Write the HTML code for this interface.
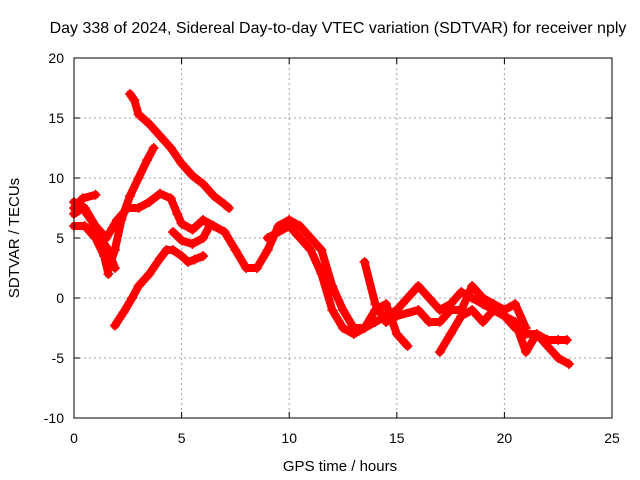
<!DOCTYPE html>
<html><head><meta charset="utf-8"><style>
body{margin:0;background:#fff;}
svg{display:block;font-family:"Liberation Sans",sans-serif;}
</style></head><body>
<svg id="c" width="640" height="480" viewBox="0 0 640 480">
<rect width="640" height="480" fill="#fff"/>
<text x="338" y="33" text-anchor="middle" font-size="16">Day 338 of 2024, Sidereal Day-to-day VTEC variation (SDTVAR) for receiver nply</text>
<g id="grid"></g>
<g id="ticks"></g>
<g id="series"></g>
<rect x="74" y="58" width="538" height="360" fill="none" stroke="#000" stroke-width="1"/>
<text x="340" y="471" text-anchor="middle" font-size="15">GPS time / hours</text>
<text transform="translate(19,238) rotate(-90)" text-anchor="middle" font-size="15">SDTVAR / TECUs</text>
</svg>
<script>
const xTicks=[0,5,10,15,20,25];
const yTicks=[-10,-5,0,5,10,15,20];
const trackA=[[2.6,17],[2.8,16.5],[3,15.3],[3.5,14.5],[4,13.5],[4.5,12.5],[5,11.2],[5.5,10.2],[6,9.5],[6.5,8.5],[7,7.8],[7.2,7.5]];
const trackB=[[1.9,-2.3],[2.3,-1.2],[2.7,0],[3,1],[3.5,2],[4,3.3],[4.3,4],[4.6,4],[5,3.5],[5.3,3],[5.6,3.2],[6,3.5]];
const trackC=[[1.6,2.5],[1.9,4],[2.2,6.5],[2.6,8.5],[3,10],[3.4,11.5],[3.7,12.5]];
const trackD=[[0,8],[0.5,7.5],[1,6],[1.5,5],[2,6.5],[2.5,7.5],[3,7.5],[3.5,8],[4,8.7],[4.5,8.3],[4.8,7],[5,6.2],[5.5,5.7],[6,6.5],[6.5,6],[7,5.5],[7.5,4],[8,2.5],[8.5,2.5],[9,4],[9.5,6],[10,6.5],[10.5,6],[11,5],[11.5,4],[12,1],[12.5,-1],[13,-2.5],[13.5,-2.5],[14,-2],[14.5,-1.5],[15,-1],[15.5,0],[16,1],[16.5,0],[17,-1],[17.5,-0.5],[18,0.5],[18.5,0],[19,-0.5],[19.5,-1],[20,-1.5],[20.5,-2.5],[21,-3],[21.5,-3],[22,-3.5],[22.5,-3.5],[22.9,-3.5]];
const trackE=[[0,7.5],[0.4,8.3],[1,8.6]];
const trackF=[[0,6],[0.5,6],[1,5],[1.4,3.5],[1.6,2]];
const trackG=[[0,7],[0.4,7.5],[0.8,6.5],[1.2,5],[1.6,4],[1.9,2.5]];
const trackH=[[4.6,5.5],[5,4.8],[5.5,4.5],[6,5],[6.3,6]];
const trackI=[[9,5],[10,6],[11,4],[11.5,2],[12,-1],[12.5,-2.5],[13,-3],[13.5,-2.5],[14,-1],[14.5,-0.5],[15,-3],[15.5,-4]];
const trackJ=[[17,-4.5],[17.5,-3],[18,-1.5],[18.5,-1],[19,-2],[19.5,-1],[20,-1.5],[20.5,-2],[21,-4.5],[21.5,-3],[22,-4],[22.5,-5],[23,-5.5]];
const trackK=[[13.5,3],[14,-0.5],[14.5,-2],[15,-1.5],[16,-1],[16.5,-2],[17,-2],[17.5,-1],[18,-1],[18.5,1],[19,0],[19.5,-0.5],[20,-1],[20.5,-0.5],[21,-2.5]];
const tracks=[trackA,trackB,trackC,trackD,trackE,trackF,trackG,trackH,trackI,trackJ,trackK];
const NS="http://www.w3.org/2000/svg";
function X(v){return 74+v*(538/25);}
function Y(v){return 298-v*12;}
const grid=document.getElementById('grid'),ticks=document.getElementById('ticks'),series=document.getElementById('series');
function mk(tag,attrs,parent){const e=document.createElementNS(NS,tag);for(const k in attrs)e.setAttribute(k,attrs[k]);parent.appendChild(e);return e;}
xTicks.forEach(t=>{
 if(t>0&&t<25){const g=mk('line',{x1:X(t),x2:X(t),y1:58,y2:418,stroke:'#a0a0a0','stroke-dasharray':'2,3'},grid);
 
 }
 mk('line',{x1:X(t),x2:X(t),y1:418,y2:412,stroke:'#000'},ticks);
 mk('line',{x1:X(t),x2:X(t),y1:58,y2:64,stroke:'#000'},ticks);
 const l=mk('text',{x:X(t),y:443,'text-anchor':'middle','font-size':14},ticks);l.textContent=t;
 
 
});
yTicks.forEach(t=>{
 if(t>-10&&t<20){const g=mk('line',{x1:74,x2:612,y1:Y(t),y2:Y(t),stroke:'#a0a0a0','stroke-dasharray':'2,3'},grid);
 
 }
 mk('line',{x1:74,x2:80,y1:Y(t),y2:Y(t),stroke:'#000'},ticks);
 mk('line',{x1:612,x2:606,y1:Y(t),y2:Y(t),stroke:'#000'},ticks);
 const l=mk('text',{x:64,y:Y(t)+5,'text-anchor':'end','font-size':14},ticks);l.textContent=t;
 
 
});
tracks.forEach((tr,i)=>{
 const p=mk('polyline',{points:tr.map(d=>X(d[0])+','+Y(d[1])).join(' '),fill:'none',stroke:'#ff0000','stroke-width':8,'stroke-linejoin':'round','stroke-linecap':'round'},series);
 
 
 tr.forEach(d=>{
  const m=mk('path',{d:`M${X(d[0])-5},${Y(d[1])}h10M${X(d[0])},${Y(d[1])-5}v10`,stroke:'#ff0000','stroke-width':1.5},series);
  
  
 });
});
</script>
</body></html>
